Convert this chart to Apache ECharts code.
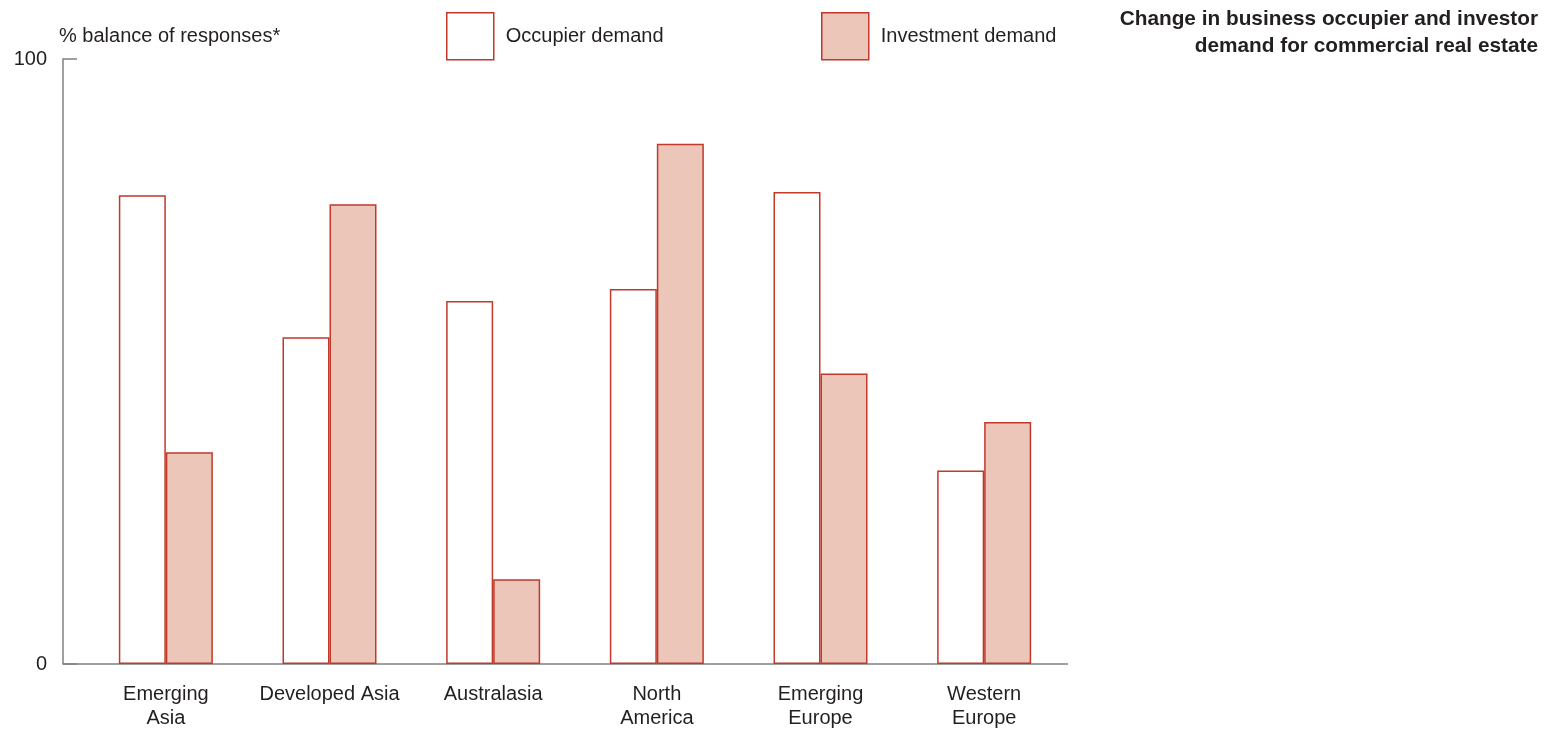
<!DOCTYPE html>
<html>
<head>
<meta charset="utf-8">
<script src="https://cdn.jsdelivr.net/npm/echarts@6/dist/echarts.min.js"></script>
<style>
html,body{margin:0;padding:0;background:#fff;}
#chart{width:1556px;height:730px;}
</style>
</head>
<body>
<div id="chart"></div>
<script>
const categories = ['Emerging\nAsia', 'Developed Asia', 'Australasia', 'North\nAmerica', 'Emerging\nEurope', 'Western\nEurope'];
const occupierDemand = [77.5, 54, 60, 62, 78, 32];
const investmentDemand = [35, 76, 14, 86, 48, 40];
const yTicks = [0, 100];

const FONT = '"Liberation Sans", Arial, Helvetica, sans-serif';
const TEXT = '#231f20';
const RED = '#c0392b';
const FILL = '#ecc6b8';
const AXIS = '#808080';

const chart = echarts.init(document.getElementById('chart'), null, {renderer: 'canvas'});
const option = {
  animation: false,
  backgroundColor: '#fff',
  textStyle: {fontFamily: FONT},
  title: [
    {
      text: 'Change in business occupier and investor\ndemand for commercial real estate',
      left: 1538, top: 6, padding: 0, textAlign: 'right',
      textStyle: {fontFamily: FONT, fontSize: 20.8, fontWeight: 'bold', color: TEXT, lineHeight: 27}
    },
    {
      text: '% balance of responses*',
      left: 59, top: 24, padding: 0,
      textStyle: {fontFamily: FONT, fontSize: 20, fontWeight: 'normal', color: TEXT, lineHeight: 24}
    }
  ],
  legend: [
    {
      data: ['Occupier demand'], left: 446, top: 12, padding: 0,
      itemWidth: 47, itemHeight: 47, icon: 'rect',
      itemStyle: {borderColor: RED, borderWidth: 1.5},
      textStyle: {fontFamily: FONT, fontSize: 20, color: TEXT, padding: [0, 0, 0, 7]}
    },
    {
      data: ['Investment demand'], left: 821, top: 12, padding: 0,
      itemWidth: 47, itemHeight: 47, icon: 'rect',
      itemStyle: {borderColor: RED, borderWidth: 1.5},
      textStyle: {fontFamily: FONT, fontSize: 20, color: TEXT, padding: [0, 0, 0, 7]}
    }
  ],
  grid: {left: 84, right: 490, top: 59, bottom: 66, containLabel: false},
  xAxis: {
    type: 'category',
    data: categories,
    axisLine: {show: false},
    axisTick: {show: false},
    axisLabel: {fontFamily: FONT, fontSize: 20, color: TEXT, lineHeight: 24, margin: 18, interval: 0}
  },
  yAxis: {
    type: 'value',
    min: yTicks[0], max: yTicks[yTicks.length - 1], interval: 100,
    offset: 21,
    axisLine: {show: true, lineStyle: {color: AXIS, width: 1.5}},
    axisTick: {show: true, inside: true, length: 14, lineStyle: {color: AXIS, width: 1.5}},
    splitLine: {show: false},
    axisLabel: {fontFamily: FONT, fontSize: 20, color: TEXT, margin: 16}
  },
  series: [
    {
      name: 'Occupier demand', type: 'bar', data: occupierDemand,
      barWidth: 47, barGap: '0%', z: 3,
      itemStyle: {color: '#ffffff', borderColor: RED, borderWidth: 1.5}
    },
    {
      name: 'Investment demand', type: 'bar', data: investmentDemand,
      barWidth: 47, barGap: '0%', z: 3,
      itemStyle: {color: FILL, borderColor: RED, borderWidth: 1.5}
    }
  ]
};
chart.setOption(option);

// x-axis baseline spanning from the offset y-axis to the plot's right edge
const y0 = chart.convertToPixel({yAxisIndex: 0}, 0);
const gridRect = chart.getModel().getComponent('grid').coordinateSystem.getRect();
chart.setOption({
  graphic: [{
    type: 'line', z: 1,
    shape: {x1: gridRect.x - 21, y1: y0, x2: gridRect.x + gridRect.width + 2, y2: y0},
    style: {stroke: AXIS, lineWidth: 1.5}
  }]
});
</script>
</body>
</html>
